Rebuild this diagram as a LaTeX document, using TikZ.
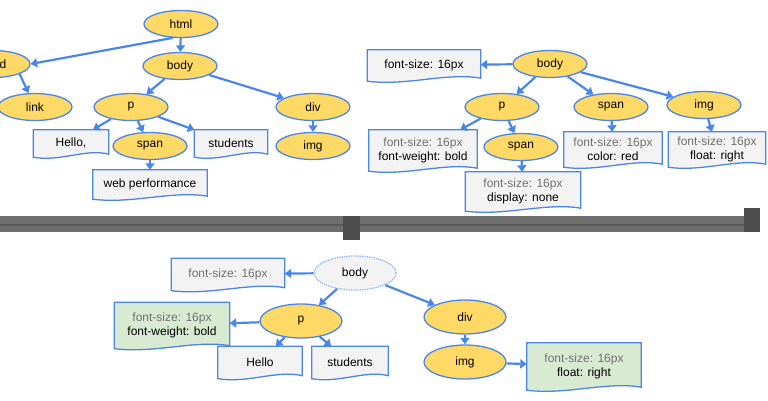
\documentclass[tikz,border=0pt]{standalone}
\usepackage{fontspec}
\setmainfont{Liberation Sans}
\usetikzlibrary{
  calc, % for the wavy bottom of the boxes
  shapes.geometric, % for the ellipses
  arrows.meta % for arrow tips
}
\definecolor{lineblue}{HTML}{4A86E8}
\definecolor{elemyellow}{HTML}{FFD966}
\definecolor{boxgray}{HTML}{F3F3F3}
\definecolor{boxgreen}{HTML}{D9EAD3}
\definecolor{fsgray}{HTML}{707070}
\definecolor{sepgray}{HTML}{6E6E6E}
\newcommand{\fsline}{\textcolor{fsgray}{font-size: 16px}}

\begin{document}
\begin{tikzpicture}[
      x=1pt, y=-1pt, % pixel coordinates
      >={Triangle[length=6.5pt,width=9pt]}, % Default arrow tip
      font=\fontsize{12}{14}\selectfont,
      elem/.style={ellipse, draw=lineblue, line width=1.3pt, fill=elemyellow,
        minimum width=74pt, minimum height=27pt, inner sep=0pt}, % DOM nodes
      bigelem/.style={elem, minimum width=82pt, minimum height=34pt},
      ghost/.style={bigelem, fill=boxgray, draw=lineblue!60, densely dotted},
      doc/.style={rectangle, inner sep=0pt, align=center,
        append after command={\pgfextra{
          \filldraw[draw=lineblue, line width=1.3pt, fill=#1]
            (\tikzlastnode.north west) -- (\tikzlastnode.north east)
            -- ([yshift=2pt]\tikzlastnode.south east)
            .. controls ($(\tikzlastnode.south east)!0.3!(\tikzlastnode.south west)+(0,8pt)$)
            and ($(\tikzlastnode.south west)!0.35!(\tikzlastnode.south east)+(0,-6pt)$)
            .. ([yshift=-1pt]\tikzlastnode.south west) -- cycle;}}}, % style boxes
      doc/.default=boxgray,
      conn/.style={->, lineblue, line width=2.2pt}, % connectors
    ]
    \useasboundingbox (0,0) rectangle (768,400);
    % DOM tree
    \node[elem] (html) at (181,24) {html};
    \node[elem] (body) at (180,66) {body};
    \node[elem] (head) at (-7,64) {head};
    \node[elem] (link) at (35,107) {link};
    \node[elem] (p) at (131,107) {p};
    \node[elem] (div) at (313,107) {div};
    \node[doc, minimum width=75pt, minimum height=26pt] (hello) at (71,143) {Hello,};
    \node[elem] (span) at (150,146) {span};
    \node[doc, minimum width=73pt, minimum height=26pt] (students) at (231,143) {students};
    \node[elem] (img) at (313,146) {img};
    \node[doc, minimum width=114pt, minimum height=28pt] (webperf) at (150,184) {web performance};
    \draw[conn] (html.240) -- (head.east);
    \draw[conn] (html) -- (body);
    \draw[conn] (head.south east) -- (link);
    \draw[conn] (body) -- (p);
    \draw[conn] (body) -- (div);
    \draw[conn] (p) -- (hello);
    \draw[conn] (p) -- (span);
    \draw[conn] (p) -- (students);
    \draw[conn] (span) -- (webperf);
    \draw[conn] (div) -- (img);
    % CSSOM tree
    \node[doc, minimum width=113pt, minimum height=30pt] (bodystyle) at (424,65) {font-size: 16px};
    \node[elem] (sbody) at (550,64) {body};
    \node[elem] (sp) at (502,107) {p};
    \node[elem] (sspan) at (611,107) {span};
    \node[elem] (simg) at (704,105) {img};
    \node[doc, minimum width=108pt, minimum height=40pt] (pstyle) at (423,150) {\fsline\\font-weight: bold};
    \node[elem] (sinner) at (521,147) {span};
    \node[doc, minimum width=98pt, minimum height=34pt] (spanstyle) at (613,149) {\fsline\\color: red};
    \node[doc, minimum width=97pt, minimum height=34pt] (imgstyle) at (717,149) {\fsline\\float: right};
    \node[doc, minimum width=115pt, minimum height=38pt] (innerstyle) at (523,191) {\fsline\\display: none};
    \draw[conn] (sbody) -- (bodystyle);
    \draw[conn] (sbody) -- (sp);
    \draw[conn] (sbody) -- (sspan);
    \draw[conn] (sbody) -- (simg);
    \draw[conn] (sp) -- (pstyle);
    \draw[conn] (sp) -- (sinner);
    \draw[conn] (sspan) -- (spanstyle);
    \draw[conn] (simg) -- (imgstyle);
    \draw[conn] (sinner) -- (innerstyle);
    % Trennlinie
    \fill[sepgray] (0,216) rectangle (757,232);
    \fill[sepgray!80!black] (0,224) rectangle (757,226);
    \fill[sepgray!70!black] (744,208) rectangle (760,232);
    \fill[sepgray!70!black] (343,216) rectangle (360,240);
    % Render tree
    \node[doc, minimum width=113pt, minimum height=31pt] (rbodystyle) at (228,274) {\fsline};
    \node[ghost] (rbody) at (355,273) {body};
    \node[bigelem] (rp) at (301,321) {p};
    \node[doc=boxgreen, minimum width=115pt, minimum height=45pt] (rpstyle) at (172,325) {\fsline\\font-weight: bold};
    \node[doc, minimum width=84pt, minimum height=31pt] (rhello) at (260,362) {Hello};
    \node[doc, minimum width=76pt, minimum height=31pt] (rstudents) at (350,362) {students};
    \node[bigelem] (rdiv) at (465,317) {div};
    \node[bigelem] (rimg) at (465,362) {img};
    \node[doc=boxgreen, minimum width=114pt, minimum height=46pt] (rimgstyle) at (584,366) {\fsline\\float: right};
    \draw[conn] (rbody) -- (rbodystyle);
    \draw[conn] (rbody) -- (rp);
    \draw[conn] (rbody) -- (rdiv);
    \draw[conn] (rp) -- (rpstyle);
    \draw[conn] (rp) -- (rhello);
    \draw[conn] (rp) -- (rstudents);
    \draw[conn] (rdiv) -- (rimg);
    \draw[conn] (rimg) -- (rimgstyle);
  \end{tikzpicture}
\end{document}
